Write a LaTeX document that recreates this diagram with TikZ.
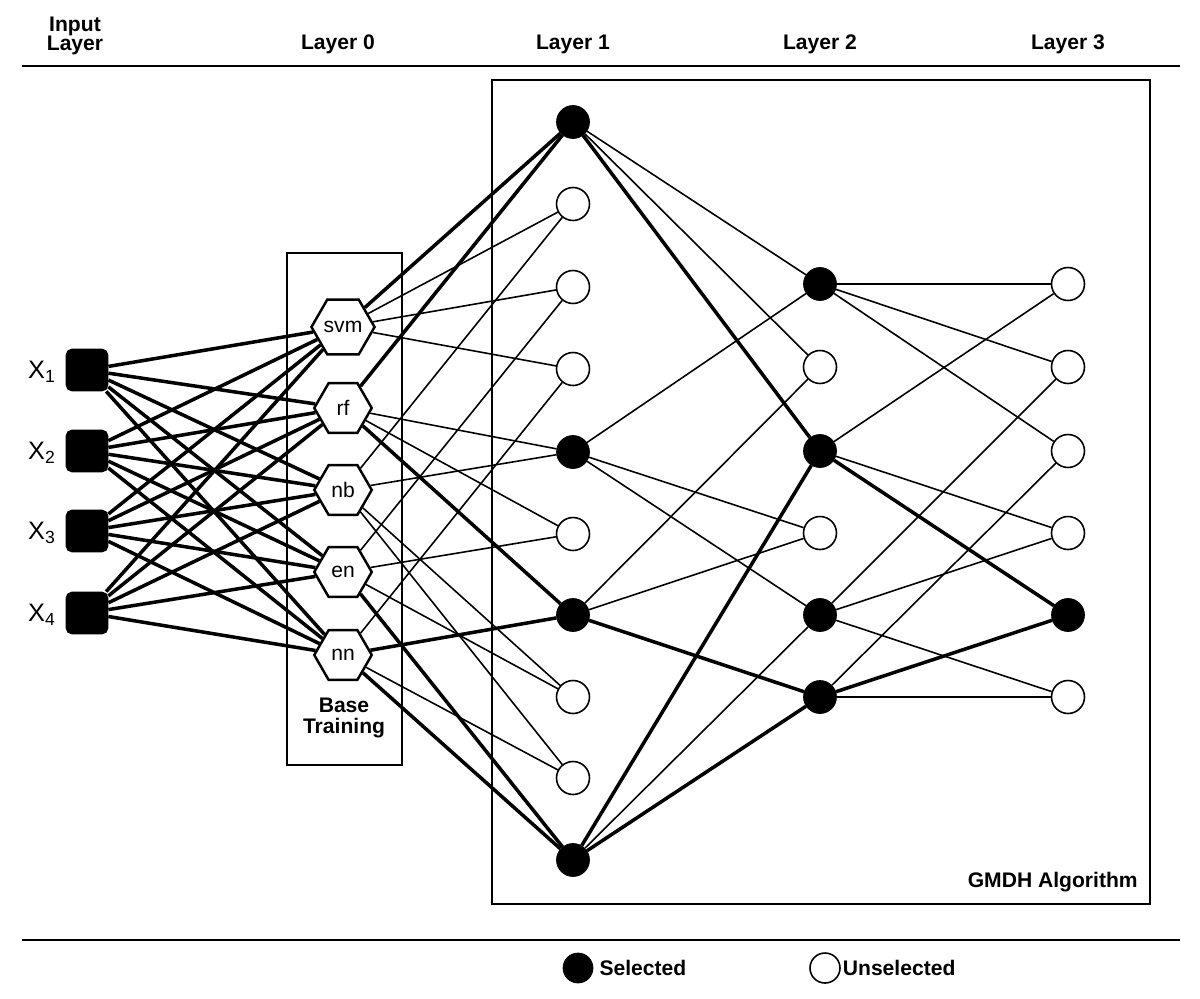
\documentclass[tikz,border=0pt]{standalone}
\usepackage{fontspec}
\setmainfont{Liberation Sans}
\usetikzlibrary{shapes,backgrounds}

\tikzset{
	inp/.style={rectangle,rounded corners=3pt,draw,line width=1.6pt,fill=black,minimum size=0.8cm},
	base/.style={regular polygon,regular polygon sides=6,draw,line width=1.4pt,fill=white,inner sep=0pt,minimum size=1.15cm,font=\large},
	sel/.style={circle,draw,fill=black,minimum size=0.66cm,inner sep=0pt},
	unsel/.style={circle,draw,line width=0.9pt,fill=white,minimum size=0.66cm,inner sep=0pt},
	thinline/.style={line width=0.9pt},
	thickline/.style={line width=2pt},
	head/.style={font=\bfseries\large,align=center,inner sep=0pt},
}

\begin{document}
\begin{tikzpicture}[x=0.02cm,y=-0.02cm]
		
			\useasboundingbox (0,0) rectangle (1200,998);
			
			\node[head] (hin) at (75,36) {Input\\[-3pt]Layer};
			\node[head] (h0) at (338,44) {Layer 0};
			\node[head] (h1) at (573,44) {Layer 1};
			\node[head] (h2) at (820,44) {Layer 2};
			\node[head] (h3) at (1068,44) {Layer 3};
			\draw[line width=1.5pt] (22,66) -- (1180,66);
			\draw[line width=1.5pt] (22,940) -- (1180,940);
			
			\draw[line width=1.4pt] (492,80) rectangle (1150,904);
			\node[head,anchor=south east] (gmdh) at (1138,892) {GMDH Algorithm};
			\draw[line width=1.4pt] (287,253) rectangle (402,765);
			\node[head,align=center] (bt) at (344,718) {Base\\[-2pt]Training};
			
			\node[inp] (x1) at (87,370) {};
			\node[inp] (x2) at (87,451) {};
			\node[inp] (x3) at (87,531) {};
			\node[inp] (x4) at (87,613) {};
			\node[font=\Large] at (42,372) {X\textsubscript{1}};
			\node[font=\Large] at (42,453) {X\textsubscript{2}};
			\node[font=\Large] at (42,533) {X\textsubscript{3}};
			\node[font=\Large] at (42,615) {X\textsubscript{4}};
			
			\node[base] (svm) at (343,327) {svm};
			\node[base] (rf) at (343,408) {rf};
			\node[base] (nb) at (343,490) {nb};
			\node[base] (en) at (343,572) {en};
			\node[base] (nn) at (343,655) {nn};
			
			\node[sel] (a) at (573,122) {};
			\node[unsel] (b) at (573,204) {};
			\node[unsel] (c) at (573,287) {};
			\node[unsel] (d) at (573,369) {};
			\node[sel] (e) at (573,452) {};
			\node[unsel] (f) at (573,534) {};
			\node[sel] (g) at (573,615) {};
			\node[unsel] (h) at (573,697) {};
			\node[unsel] (i) at (573,778) {};
			\node[sel] (j) at (573,860) {};
			
			\node[sel] (A) at (820,284) {};
			\node[unsel] (B) at (820,367) {};
			\node[sel] (C) at (820,451) {};
			\node[unsel] (D) at (820,533) {};
			\node[sel] (E) at (820,615) {};
			\node[sel] (F) at (820,697) {};
			
			\node[unsel] (P) at (1068,284) {};
			\node[unsel] (Q) at (1068,367) {};
			\node[unsel] (R) at (1068,451) {};
			\node[unsel] (S) at (1068,533) {};
			\node[sel] (T) at (1068,615) {};
			\node[unsel] (U) at (1068,697) {};
			
			\node[sel,minimum size=0.6cm] (ks) at (578,968) {};
			\node[anchor=west,font=\bfseries\large] (kst) at (ks.east) {Selected};
			\node[unsel,minimum size=0.6cm] (ku) at (825,968) {};
			\node[anchor=west,font=\bfseries\large,inner sep=1pt] (kut) at (ku.east) {Unselected};
			
			\begin{pgfonlayer}{background}
			\foreach \s in {x1,x2,x3,x4}
				\foreach \t in {svm,rf,nb,en,nn}
					\path[draw,thickline] (\s) -- (\t);
			
			\path[draw,thickline] (svm) -- (a);
			\path[draw,thickline] (rf) -- (a);
			\path[draw,thinline] (svm) -- (b);
			\path[draw,thinline] (nb) -- (b);
			\path[draw,thinline] (svm) -- (c);
			\path[draw,thinline] (en) -- (c);
			\path[draw,thinline] (svm) -- (d);
			\path[draw,thinline] (nn) -- (d);
			\path[draw,thinline] (rf) -- (e);
			\path[draw,thinline] (nb) -- (e);
			\path[draw,thinline] (rf) -- (f);
			\path[draw,thinline] (en) -- (f);
			\path[draw,thickline] (rf) -- (g);
			\path[draw,thickline] (nn) -- (g);
			\path[draw,thinline] (nb) -- (h);
			\path[draw,thinline] (en) -- (h);
			\path[draw,thinline] (nb) -- (i);
			\path[draw,thinline] (nn) -- (i);
			\path[draw,thickline] (en) -- (j);
			\path[draw,thickline] (nn) -- (j);
			
			\path[draw,thinline] (a) -- (A);
			\path[draw,thinline] (e) -- (A);
			\path[draw,thinline] (a) -- (B);
			\path[draw,thinline] (g) -- (B);
			\path[draw,thickline] (a) -- (C);
			\path[draw,thickline] (j) -- (C);
			\path[draw,thinline] (e) -- (D);
			\path[draw,thinline] (g) -- (D);
			\path[draw,thinline] (e) -- (E);
			\path[draw,thinline] (j) -- (E);
			\path[draw,thickline] (g) -- (F);
			\path[draw,thickline] (j) -- (F);
			
			\path[draw,thinline] (A) -- (P);
			\path[draw,thinline] (C) -- (P);
			\path[draw,thinline] (A) -- (Q);
			\path[draw,thinline] (E) -- (Q);
			\path[draw,thinline] (A) -- (R);
			\path[draw,thinline] (F) -- (R);
			\path[draw,thinline] (C) -- (S);
			\path[draw,thinline] (E) -- (S);
			\path[draw,thickline] (C) -- (T);
			\path[draw,thickline] (F) -- (T);
			\path[draw,thinline] (E) -- (U);
			\path[draw,thinline] (F) -- (U);
			\end{pgfonlayer}
		
		\end{tikzpicture}
\end{document}
